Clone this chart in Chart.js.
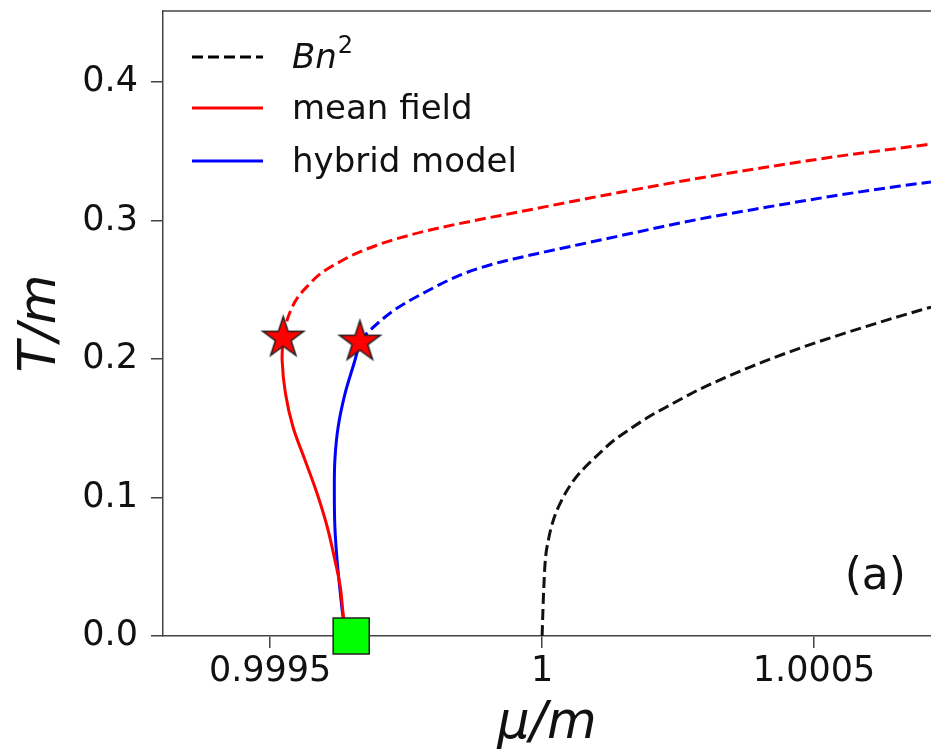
<!DOCTYPE html>
<html>
<head>
<meta charset="utf-8">
<script src="https://cdn.jsdelivr.net/npm/chart.js@4.4.1/dist/chart.umd.min.js"></script>
<style>
  html, body { margin: 0; padding: 0; background: #fff; }
  #wrap { width: 931px; height: 755px; }
</style>
</head>
<body>
<div id="wrap"><canvas id="c" width="931" height="755"></canvas></div>
<script>
// values (mu/m, T/m)
const meanFieldX = [0.999524, 0.999522, 0.999528, 0.999542, 0.999564, 0.999586, 0.999605, 0.999619, 0.999629, 0.999634, 0.999640];
const meanFieldY = [0.2159, 0.1993, 0.1755, 0.1509, 0.1271, 0.1032, 0.0787, 0.0549, 0.0354, 0.0166, 0.0];

const meanFieldDashX = [0.999524, 0.999533, 0.999574, 0.999634, 0.999697, 0.999757, 0.999818, 0.999881, 0.999947, 1.000107, 1.000290, 1.000414, 1.000535, 1.000658, 1.000715];
const meanFieldDashY = [0.2159, 0.2303, 0.2549, 0.2715, 0.2823, 0.2895, 0.2953, 0.3004, 0.3054, 0.3177, 0.3307, 0.3386, 0.3459, 0.3523, 0.3552];

const hybridX = [0.999665, 0.999656, 0.999638, 0.999625, 0.999619, 0.999618, 0.999619, 0.999623, 0.999629, 0.999634, 0.999640];
const hybridY = [0.2130, 0.1993, 0.1755, 0.1509, 0.1271, 0.1032, 0.0787, 0.0549, 0.0310, 0.0137, 0.0];

const hybridDashX = [0.999665, 0.999684, 0.999726, 0.999789, 0.999849, 0.999910, 0.999947, 1.000107, 1.000290, 1.000414, 1.000535, 1.000658, 1.000715];
const hybridDashY = [0.2130, 0.2209, 0.2347, 0.2491, 0.2606, 0.2686, 0.2722, 0.2859, 0.3011, 0.3097, 0.3177, 0.3249, 0.3278];

const bnX = [1.0, 1.0000024, 1.0000055, 1.0000116, 1.0000208, 1.0000362, 1.0000546, 1.0000759, 1.0001005, 1.0001305, 1.0001618, 1.0001985, 1.0002353, 1.0002904, 1.0003824, 1.0004743, 1.0005349, 1.0006581, 1.0007151];
const bnY = [0.0, 0.0282, 0.0527, 0.0693, 0.0838, 0.0982, 0.1105, 0.1206, 0.1300, 0.1408, 0.1495, 0.1588, 0.1668, 0.1783, 0.1942, 0.2079, 0.2159, 0.2310, 0.2375];

const starX = [0.999524, 0.999665];
const starY = [0.2159, 0.2130];
const squareX = [0.999649];
const squareY = [0.0];

const xTicks = [0.9995, 1, 1.0005];
const xTickLabels = ['0.9995', '1', '1.0005'];
const yTicks = [0, 0.1, 0.2, 0.3, 0.4];

const pts = (xs, ys) => xs.map((x, i) => ({ x: x, y: ys[i] }));

// filled star marker
function makeStar(size, color) {
  const cv = document.createElement('canvas');
  cv.width = size; cv.height = size;
  const g = cv.getContext('2d');
  const c = size / 2, ro = size / 2 - 2, ri = ro * 0.382;
  g.beginPath();
  for (let i = 0; i < 10; i++) {
    const r = i % 2 === 0 ? ro : ri;
    const a = -Math.PI / 2 + i * Math.PI / 5;
    const px = c + r * Math.cos(a), py = c + 1 + r * Math.sin(a);
    if (i === 0) g.moveTo(px, py); else g.lineTo(px, py);
  }
  g.closePath();
  g.fillStyle = color;
  g.fill();
  g.lineWidth = 1.5;
  g.strokeStyle = '#222';
  g.stroke();
  return cv;
}
const starImg = makeStar(47, '#ff0000');

const FONT = "'DejaVu Sans', sans-serif";

const extras = {
  id: 'extras',
  afterDraw(chart) {
    const ctx = chart.ctx;
    const a = chart.chartArea;
    ctx.save();
    // top spine
    ctx.strokeStyle = '#444';
    ctx.lineWidth = 1.5;
    ctx.beginPath();
    ctx.moveTo(a.left, a.top);
    ctx.lineTo(a.right, a.top);
    ctx.stroke();

    // legend
    const rows = [
      { color: '#000', dash: [11, 5], y: a.top + 46 },
      { color: '#ff0000', dash: [], y: a.top + 97, text: 'mean field' },
      { color: '#0000ff', dash: [], y: a.top + 150, text: 'hybrid model' }
    ];
    const x0 = a.left + 29, x1 = a.left + 100, tx = a.left + 129;
    rows.forEach((r, i) => {
      ctx.strokeStyle = r.color;
      ctx.lineWidth = 3;
      ctx.setLineDash(r.dash);
      ctx.beginPath();
      ctx.moveTo(x0, r.y);
      ctx.lineTo(x1, r.y);
      ctx.stroke();
      ctx.setLineDash([]);
      ctx.fillStyle = '#111';
      ctx.textBaseline = 'middle';
      ctx.textAlign = 'left';
      if (i === 0) {
        ctx.font = 'italic 34px ' + FONT;
        ctx.fillText('Bn', tx, r.y + 2);
        const w = ctx.measureText('Bn').width;
        ctx.font = '24px ' + FONT;
        ctx.fillText('2', tx + w + 1, r.y - 10);
      } else {
        ctx.font = '34px ' + FONT;
        ctx.fillText(r.text, tx, r.y + 2);
      }
    });

    // panel tag
    ctx.font = '44px ' + FONT;
    ctx.textAlign = 'right';
    ctx.textBaseline = 'middle';
    ctx.fillStyle = '#111';
    ctx.fillText('(a)', a.left + 743, a.top + 567);
    ctx.restore();
  }
};

const dashLine = (xs, ys, color) => ({
  data: pts(xs, ys), showLine: true, borderColor: color, borderWidth: 3, borderDash: [11, 5],
  pointRadius: 0, cubicInterpolationMode: 'monotone'
});
const solidLine = (xs, ys, color) => ({
  data: pts(xs, ys), showLine: true, borderColor: color, borderWidth: 3, pointRadius: 0, tension: 0.35
});

new Chart(document.getElementById('c'), {
  type: 'scatter',
  data: {
    datasets: [
      { data: pts(starX, starY), pointStyle: starImg, pointRadius: 20, showLine: false },
      { data: pts(squareX, squareY), pointStyle: 'rect', pointRadius: 25.5, backgroundColor: '#00ff00',
        borderColor: '#222', pointBorderWidth: 1.5, showLine: false, clip: false },
      solidLine(meanFieldX, meanFieldY, '#ff0000'),
      solidLine(hybridX, hybridY, '#0000ff'),
      dashLine(meanFieldDashX, meanFieldDashY, '#ff0000'),
      dashLine(hybridDashX, hybridDashY, '#0000ff'),
      dashLine(bnX, bnY, '#111')
    ]
  },
  options: {
    responsive: false,
    animation: false,
    events: [],
    layout: { autoPadding: false, padding: { top: 11, right: 0, left: 0, bottom: 0 } },
    plugins: { legend: { display: false }, tooltip: { enabled: false } },
    scales: {
      x: {
        type: 'linear',
        min: 0.999303,
        max: 1.000715,
        afterBuildTicks: (s) => { s.ticks = xTicks.map(v => ({ value: v })); },
        afterFit: (s) => { s.height = 119; s.paddingLeft = 0; s.paddingRight = 0; },
        ticks: {
          color: '#111',
          font: { family: FONT, size: 35 },
          padding: 3,
          maxRotation: 0,
          callback: (v) => { const i = xTicks.indexOf(v); return i >= 0 ? xTickLabels[i] : ''; }
        },
        grid: { drawOnChartArea: false, drawTicks: true, tickLength: 12, color: '#444', lineWidth: 1.5 },
        border: { display: true, color: '#444', width: 1.5 },
        title: { display: true, text: 'μ/m', color: '#111', font: { family: FONT, size: 51, style: 'italic' }, padding: { top: 0, bottom: 0 } }
      },
      y: {
        type: 'linear',
        min: 0,
        max: 0.4513,
        afterBuildTicks: (s) => { s.ticks = yTicks.map(v => ({ value: v })); },
        afterFit: (s) => { s.width = 163; s.paddingTop = 0; s.paddingBottom = 0; },
        ticks: {
          color: '#111',
          font: { family: FONT, size: 35 },
          padding: 13,
          callback: (v) => v.toFixed(1)
        },
        grid: { drawOnChartArea: false, drawTicks: true, tickLength: 12, color: '#444', lineWidth: 1.5 },
        border: { display: true, color: '#444', width: 1.5 },
        title: { display: true, text: 'T/m', color: '#111', font: { family: FONT, size: 51, style: 'italic' }, padding: { top: 11, bottom: 0 } }
      }
    }
  },
  plugins: [extras]
});
</script>
</body>
</html>
